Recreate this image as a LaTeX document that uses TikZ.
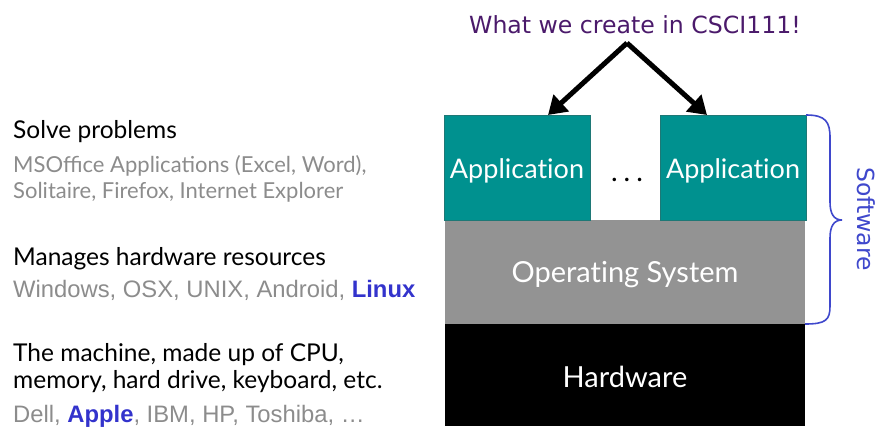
\documentclass[tikz,border=0pt]{standalone}
\usepackage{fontspec}
\setmainfont{Lato}
\newfontfamily\boxfont{Lato}[Ligatures={NoCommon,NoRare}]
\newfontfamily\arialfont{Liberation Sans}
\newfontfamily\verdfont{DejaVu Sans}
\usetikzlibrary{arrows.meta,calc}
\definecolor{appteal}{RGB}{0,145,143}
\definecolor{appedge}{RGB}{30,120,118}
\definecolor{osgray}{RGB}{147,147,147}
\definecolor{notegray}{RGB}{140,140,140}
\definecolor{swblue}{RGB}{63,72,204}
\definecolor{hiblue}{RGB}{51,51,204}
\definecolor{topurple}{RGB}{75,26,107}
\tikzset{
  layer/.style={inner sep=0pt, outer sep=0pt},
  boxtext/.style={anchor=base, inner sep=0pt, text=white, font=\boxfont\fontsize{29}{34}\selectfont},
  apptext/.style={boxtext, font=\boxfont\fontsize{27}{32}\selectfont},
  head/.style={anchor=base west, inner sep=0pt, font=\fontsize{24.5}{29}\selectfont},
  gill/.style={anchor=base west, inner sep=0pt, text=notegray, font=\fontsize{22}{26}\selectfont},
  arial/.style={anchor=base west, inner sep=0pt, text=notegray, font=\arialfont\fontsize{23.8}{28}\selectfont},
  bigarrow/.style={line width=5pt, -{Triangle[length=18pt,width=22pt]}},
}
\begin{document}
\begin{tikzpicture}[x=1pt,y=-1pt]
\useasboundingbox (0,0) rectangle (881,426);

% layer stack
\fill[osgray] (445,220) rectangle (805,324);
\node[layer, minimum width=360pt, minimum height=104pt] (os) at (625,272) {};
\fill[black] (445,324) rectangle (805,426);
\node[layer, minimum width=360pt, minimum height=102pt] (hw) at (625,375) {};
\filldraw[fill=appteal, draw=appedge, line width=1pt] (444,115) rectangle (590,220);
\node[layer, minimum width=146pt, minimum height=105pt] (app1) at (517,167.5) {};
\filldraw[fill=appteal, draw=appedge, line width=1pt] (660,115) rectangle (806,220);
\node[layer, minimum width=146pt, minimum height=105pt] (app2) at (733,167.5) {};

\node[apptext] at (517,178) {Application};
\node[apptext] at (733,178) {Application};
\node[boxtext] at (625,282) {Operating System};
\node[boxtext] at (625,387) {Hardware};
\node[anchor=base, inner sep=0pt, font=\fontsize{28}{32}\selectfont] (dots) at (627,181) {.\hspace{6pt}.\hspace{6pt}.};

% title and arrows
\node[anchor=base, inner sep=0pt, text=topurple, font=\verdfont\fontsize{23.6}{28}\selectfont] (title) at (635,33) {What we create in CSCI111!};
\coordinate (apex) at (627,43);
\coordinate (tip1) at ($(app1.north)+(31,0)$);
\coordinate (tip2) at ($(app2.north)+(-26,0)$);
\draw[bigarrow] (apex) -- (tip1);
\draw[bigarrow] (apex) -- (tip2);

% software brace
\draw[swblue, line width=1.6pt]
  (app2.north east) .. controls (826,115) and (830,122) .. (830,138)
  -- (830,202) .. controls (830,214) and (834,220) .. (842,220)
  .. controls (834,220) and (830,226) .. (830,238)
  -- (830,306) .. controls (830,320) and (826,324) .. (os.south east);
\node[rotate=-90, inner sep=0pt, text=swblue, font=\verdfont\fontsize{23.5}{28}\selectfont] (sw) at (866,219) {Software};

% descriptions
\node[head] (d1) at (13,138) {Solve problems};
\node[gill] (d1a) at (13,172) {MSOffice Applications (Excel, Word),};
\node[gill] (d1b) at (13,198) {Solitaire, Firefox, Internet Explorer};
\node[head] (d2) at (13,265) {Manages hardware resources};
\node[arial] (d2a) at (13,297) {Windows, OSX, UNIX, Android, {\color{hiblue}\bfseries Linux}};
\node[head] (d3) at (13,361) {The machine, made up of CPU,};
\node[head] (d3b) at (13,388) {memory, hard drive, keyboard, etc.};
\node[arial] (d3a) at (13,422) {Dell, {\color{hiblue}\bfseries Apple}, IBM, HP, Toshiba, \dots};
\end{tikzpicture}
\end{document}
